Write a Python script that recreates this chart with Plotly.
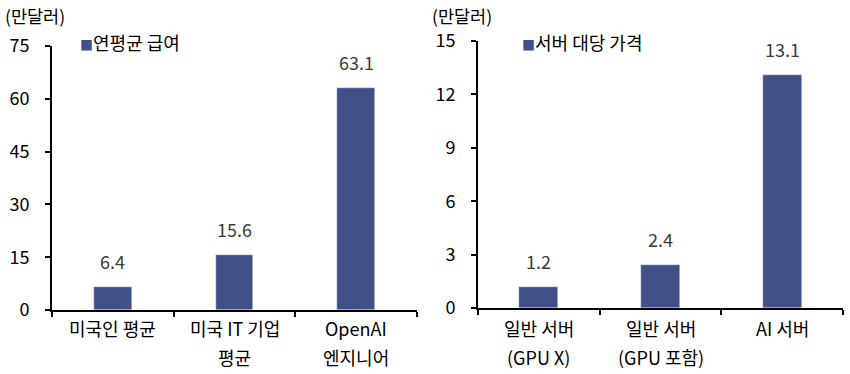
import plotly.graph_objects as go

# 연평균 급여 (만달러)
salary_cats = ["미국인 평균", "미국 IT 기업<br>평균", "OpenAI<br>엔지니어"]
salary_vals = [6.4, 15.6, 63.1]
salary_name = "연평균 급여"

# 서버 대당 가격 (만달러)
server_cats = ["일반 서버<br>(GPU X)", "일반 서버<br>(GPU 포함)", "AI 서버"]
server_vals = [1.2, 2.4, 13.1]
server_name = "서버 대당 가격"

unit_label = "(만달러)"

BAR = "#42508A"
FONT = "Noto Sans CJK KR"
FS = 18
W, H = 850, 374

fig = go.Figure()
fig.add_trace(go.Bar(x=salary_cats, y=salary_vals, name=salary_name, marker_color=BAR,
                     width=0.31, xaxis="x", yaxis="y", showlegend=False))
fig.add_trace(go.Bar(x=server_cats, y=server_vals, name=server_name, marker_color=BAR,
                     width=0.32, xaxis="x2", yaxis="y2", showlegend=False))

axis_common = dict(showline=True, linecolor="black", linewidth=2, showgrid=False,
                   zeroline=False, ticks="outside", ticklen=5, tickwidth=2,
                   automargin=False, tickcolor="black",
                   tickfont=dict(family=FONT, size=FS, color="black"))

fig.update_layout(
    width=W, height=H, margin=dict(l=0, r=0, t=0, b=0),
    paper_bgcolor="white", plot_bgcolor="white",
    font=dict(family=FONT, size=FS, color="black"),
    bargap=0,
    xaxis=dict(domain=[52 / W, 417 / W], anchor="y", tickson="boundaries",
               showticklabels=False, **axis_common),
    yaxis=dict(domain=[64 / H, 328 / H], anchor="x", range=[0, 75], dtick=15,
               ticklabelstandoff=12, **axis_common),
    xaxis2=dict(domain=[478 / W, 843 / W], anchor="y2", tickson="boundaries",
                showticklabels=False, **axis_common),
    yaxis2=dict(domain=[66 / H, 333 / H], anchor="x2", range=[0, 15], dtick=3,
                ticklabelstandoff=12, **axis_common),
)

ann = []
# category labels, one line per annotation for wider line spacing
for xref, cats in (("x", salary_cats), ("x2", server_cats)):
    for c in cats:
        lines = c.split("<br>")
        for i, line in enumerate(lines):
            ann.append(dict(x=c, xref=xref, y=(H - 328 - 29 * i) / H, yref="paper",
                            text=line, showarrow=False, yanchor="middle",
                            font=dict(family=FONT, size=FS, color="black")))

# value labels above bars
for xref, yref, cats, vals in (("x", "y", salary_cats, salary_vals),
                               ("x2", "y2", server_cats, server_vals)):
    for c, v in zip(cats, vals):
        ann.append(dict(x=c, xref=xref, y=v, yref=yref, text=f"{v:.1f}",
                        showarrow=False, yanchor="bottom", yshift=11,
                        font=dict(family=FONT, size=FS, color="#3a3a3a")))

# unit labels
for x0 in (3, 430):
    ann.append(dict(x=x0 / W, y=(H - 15) / H, xref="paper", yref="paper", text=unit_label,
                    showarrow=False, xanchor="left", yanchor="middle",
                    font=dict(family=FONT, size=17.5, color="black")))

# series keys
for x0, name in ((78, salary_name), (520, server_name)):
    ann.append(dict(x=x0 / W, y=(H - 42) / H, xref="paper", yref="paper",
                    text=f"<span style='color:{BAR};font-size:13px'>■</span>{name}",
                    showarrow=False, xanchor="left", yanchor="middle",
                    font=dict(family=FONT, size=FS, color="black")))

fig.update_layout(annotations=ann)
fig.write_html("out.html")
